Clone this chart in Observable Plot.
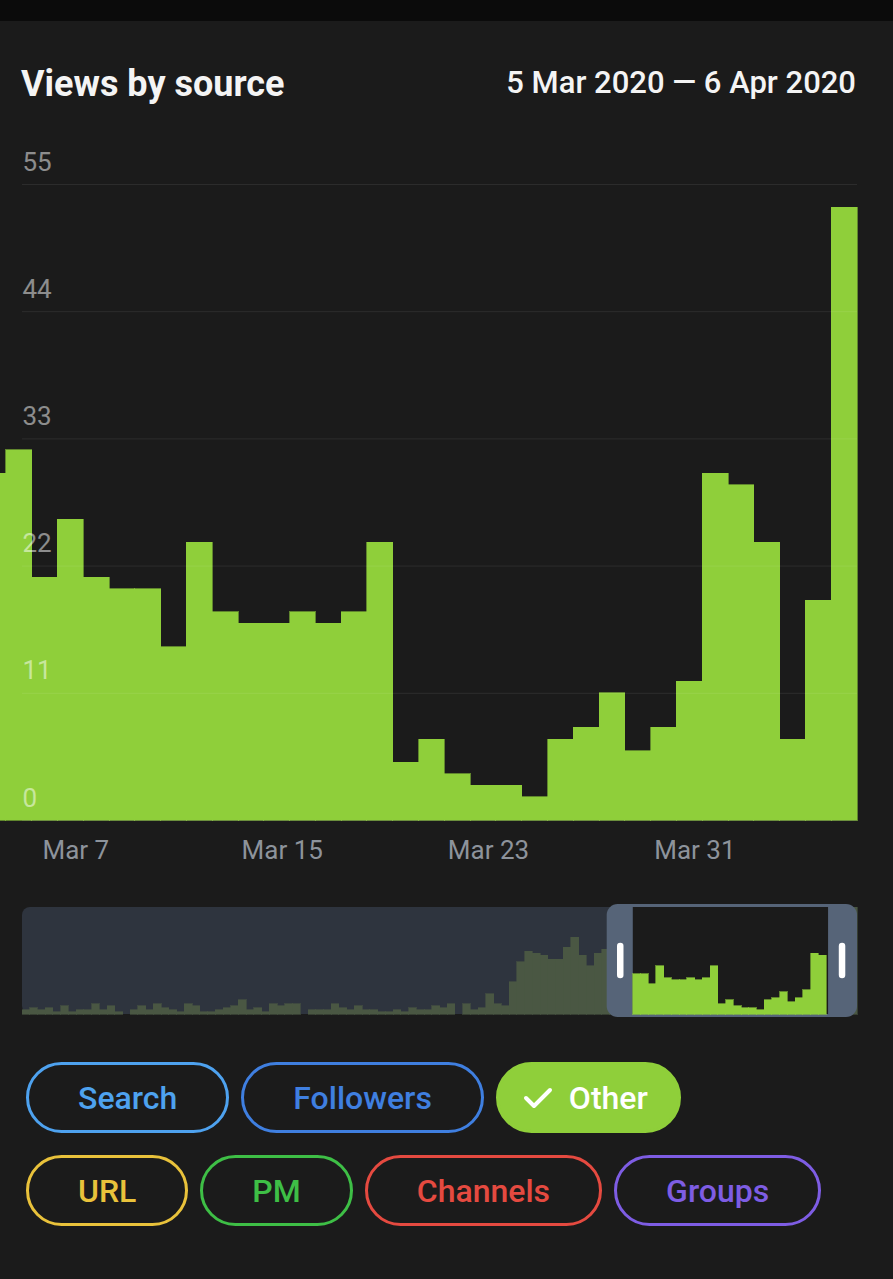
<!DOCTYPE html>
<html><head><meta charset="utf-8">
<script src="https://cdn.jsdelivr.net/npm/d3@7"></script>
<script src="https://cdn.jsdelivr.net/npm/@observablehq/plot@0.6"></script>
<style>
html,body{margin:0;padding:0;background:#1b1b1b;}
body{width:893px;height:1279px;position:relative;overflow:hidden;font-family:Roboto,"Noto Sans",sans-serif;}
#topbar{position:absolute;left:0;top:0;width:893px;height:21px;background:#0b0b0b;}
#title{position:absolute;left:21px;top:66px;font-size:36px;line-height:1;font-weight:700;color:#f4f4f4;white-space:nowrap;}
#range{position:absolute;right:37px;top:67px;font-size:31px;line-height:1;font-weight:500;color:#f4f4f4;white-space:nowrap;}
#main{position:absolute;left:0;top:120px;}
#mini{position:absolute;left:0;top:904px;}
#legend{position:absolute;left:26px;top:1062px;}
.row{display:flex;gap:12px;margin-bottom:22px;}
.btn{box-sizing:border-box;height:71px;border:3px solid;border-radius:36px;padding:0 49px;display:flex;align-items:center;font-size:32px;font-weight:500;white-space:nowrap;}
.btn.on{padding:0 30px 0 24px;color:#fff !important;}
.btn svg{margin-right:16px;}
</style>
</head><body>
<div id="topbar"></div>
<div id="title">Views by source</div>
<div id="range">5 Mar 2020 — 6 Apr 2020</div>
<div id="main"></div>
<div id="mini"></div>
<div id="legend"></div>
<script>
// ---- data ----
const viewsStart = "2020-03-04";           // first day of detailed series
const views = [30,32,21,26,21,20,20,15,24,18,17,17,18,17,18,24,5,7,4,3,3,2,7,8,11,6,8,12,30,29,24,7,19,53];
const historyStart = "2019-12-21";          // first day of overview series
const history = [2,3,2,3,1,4,1,2,2,5, 2,4,1,0,2,4,2,5,3,2, 1,5,4,1,1,2,3,4,7,2,
                 3,1,5,4,5,5,0,2,2,2, 5,3,2,4,2,2,1,1,2,1, 3,2,2,4,3,5,0,5,2,3,
                 10,5,4,16,26,31,30,29,27,27, 33,38,29,24];
const yTicks = [0,11,22,33,44,55];
const xTickDays = ["2020-03-07","2020-03-15","2020-03-23","2020-03-31"];
const viewWindow = ["2020-03-05T15:00Z","2020-04-07"];   // visible range of main chart
const overviewInner = ["2020-03-09","2020-04-03"];         // inner part of the selector
const sources = ["Search","Followers","Other","URL","PM","Channels","Groups"];
const sourceColors = ["#4ea2ef","#3f7fe0","#8fcf3a","#e9c23b","#3ebf46","#e54a40","#7e5de4"];
const selected = ["Other"];
const legendRows = [3,4];

const GREEN = "#8fcf3a";
const BG = "#1b1b1b";
const D = s => new Date(s);
const day = d3.utcDay;

const mainData = views.map((v,i)=>({date: day.offset(D(viewsStart), i), v}));
const histData = history.map((v,i)=>({date: day.offset(D(historyStart), i), v}));
const allData = histData.concat(mainData);
const vw = viewWindow.map(D), inner = overviewInner.map(D);

// ---- main chart ----
const main = Plot.plot({
  width: 893, height: 760,
  marginTop: 64, marginBottom: 60, marginLeft: 22, marginRight: 36,
  style: {background: "transparent", fontFamily: "Roboto, sans-serif", fontSize: "26px"},
  x: {type: "utc", domain: vw},
  y: {domain: [0, 55], axis: null},
  marks: [
    Plot.rectY(mainData, {x1: "date", x2: d => day.offset(d.date, 1), y: "v", fill: GREEN,
      stroke: GREEN, strokeWidth: 0.6, shapeRendering: "crispEdges"}),
    Plot.ruleY(yTicks, {stroke: "#ffffff", strokeOpacity: 0.08}),
    Plot.text(yTicks, {y: d => d, text: d => String(d), frameAnchor: "left", textAnchor: "start",
      lineAnchor: "bottom", dy: -14, fill: "#ffffff", fillOpacity: 0.5, fontSize: 26}),
    Plot.axisX(xTickDays.map(s => d3.utcHour.offset(D(s), 12)), {tickSize: 0, tickPadding: 20,
      tickFormat: d3.utcFormat("%b %-d"), fill: "#8d939b", fontSize: 26, dx: 5})
  ]
});
document.getElementById("main").append(main);

// ---- overview (navigator) ----
const miniDomain = [D(historyStart), day.offset(allData[allData.length-1].date, 1)];
const mid = (a,b) => new Date((+a + +b)/2);
const mini = Plot.plot({
  width: 893, height: 113,
  marginTop: 3, marginBottom: 3, marginLeft: 22, marginRight: 36,
  style: {background: "transparent", overflow: "visible"},
  x: {type: "utc", domain: miniDomain, axis: null},
  y: {domain: [0, d3.max(allData, d => d.v)], axis: null},
  marks: [
    Plot.rect([miniDomain], {x1: d => d[0], x2: d => d[1], fill: "#2e343e", rx: 8}),
    Plot.rectY(allData, {x1: "date", x2: d => day.offset(d.date, 1), y: "v", fill: "#4a5743",
      stroke: "#4a5743", strokeWidth: 0.6, shapeRendering: "crispEdges"}),
    Plot.rect([vw], {x1: d => d[0], x2: d => d[1], fill: "#566478", rx: 11, insetTop: -3, insetBottom: -3}),
    Plot.rect([inner], {x1: d => d[0], x2: d => d[1], fill: BG, insetRight: -2}),
    Plot.rectY(allData.filter(d => d.date >= inner[0] && d.date < inner[1]),
      {x1: "date", x2: d => day.offset(d.date, 1), y: "v", fill: GREEN,
       stroke: GREEN, strokeWidth: 0.6, shapeRendering: "crispEdges"}),
    Plot.ruleX([mid(vw[0], inner[0]), mid(inner[1], vw[1])], {stroke: "#ffffff", strokeWidth: 6.5,
      strokeLinecap: "round", insetTop: 39, insetBottom: 39})
  ]
});
document.getElementById("mini").append(mini);

// ---- legend ----
const legend = document.getElementById("legend");
let k = 0;
for (const n of legendRows) {
  const row = document.createElement("div");
  row.className = "row";
  for (let j = 0; j < n; j++, k++) {
    const name = sources[k], color = sourceColors[k];
    const b = document.createElement("div");
    b.className = "btn" + (selected.includes(name) ? " on" : "");
    b.style.borderColor = color;
    b.style.color = color;
    if (selected.includes(name)) {
      b.style.background = color;
      b.innerHTML = '<svg width="30" height="24" viewBox="0 0 30 24"><polyline points="3,12 11,20 27,4" fill="none" stroke="#fff" stroke-width="4" stroke-linecap="round" stroke-linejoin="round"/></svg>';
    }
    b.append(document.createTextNode(name));
    row.append(b);
  }
  legend.append(row);
}
</script>
</body></html>
